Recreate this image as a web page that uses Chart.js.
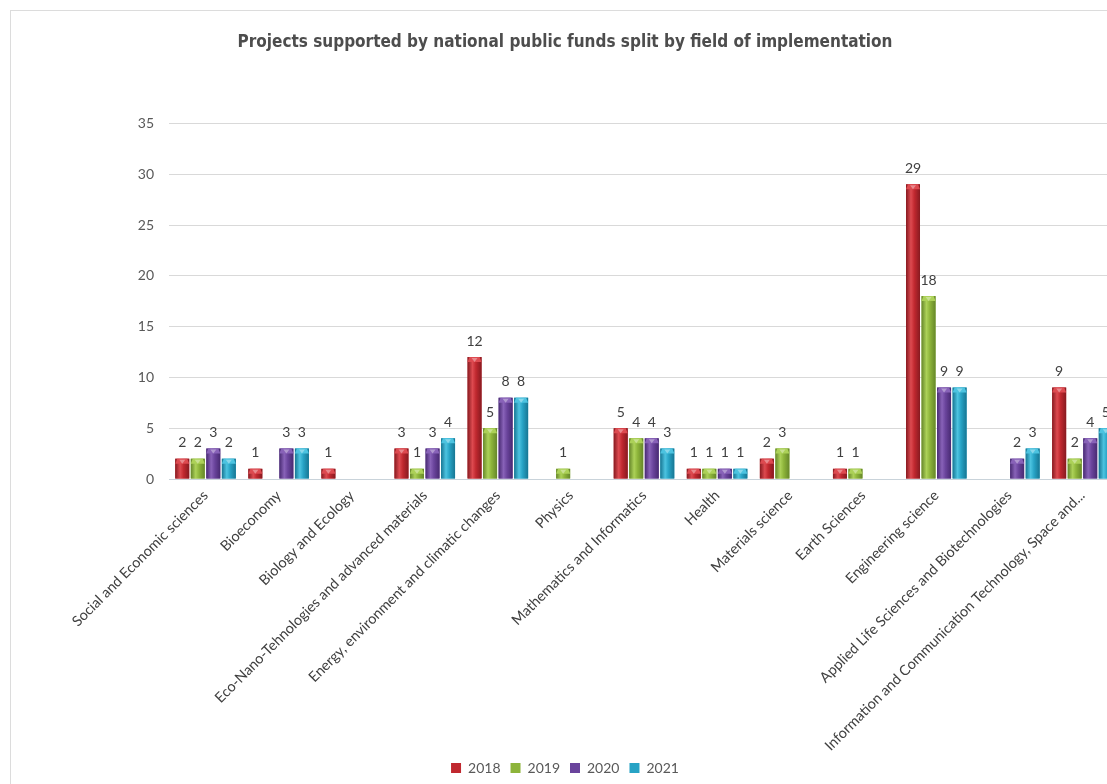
<!DOCTYPE html>
<html>
<head>
    <meta charset="UTF-8">
    <script src="https://cdn.jsdelivr.net/npm/chart.js"></script>
    <style>
        html, body { margin: 0; padding: 0; background: #fff; overflow: hidden; }
        #frame {
            position: absolute; left: 10px; top: 10px;
            width: 1120px; height: 790px;
            border-left: 1px solid #dcdcdc; border-top: 1px solid #dcdcdc;
        }
    </style>
</head>
<body>
<div id="frame">
    <canvas id="fieldsChart" width="1120" height="774"></canvas>
</div>

<script>
    const fields = [
        'Social and Economic sciences',
        'Bioeconomy',
        'Biology and Ecology',
        'Eco-Nano-Tehnologies and advanced materials',
        'Energy, environment and climatic changes',
        'Physics',
        'Mathematics and Informatics',
        'Health',
        'Materials science',
        'Earth Sciences',
        'Engineering science',
        'Applied Life Sciences and Biotechnologies',
        'Information and Communication Technology, Space and...'
    ];
    const projects2018 = [2, 1, 1, 3, 12, null, 5, 1, 2, 1, 29, null, 9];
    const projects2019 = [2, null, null, 1, 5, 1, 4, 1, 3, 1, 18, null, 2];
    const projects2020 = [3, 3, null, 3, 8, null, 4, 1, null, null, 9, 2, 4];
    const projects2021 = [2, 3, null, 4, 8, null, 3, 1, null, null, 9, 3, 5];
    const yearLabels = ['2018', '2019', '2020', '2021'];

    // base colour, dark edge, light centre
    const shades = [
        ['#c0282f', '#871a20', '#dd4a50'],
        ['#8db43a', '#66872a', '#acd158'],
        ['#6a449c', '#482a72', '#8862b8'],
        ['#27a3c5', '#177693', '#4cc3e0']
    ];

    const textFont = "Lato, 'Open Sans', sans-serif";

    // cylinder-like shading and a bevelled cap on top of every bar
    const barShading = {
        id: 'barShading',
        afterDatasetsDraw(chart) {
            const ctx = chart.ctx;
            chart.data.datasets.forEach((ds, i) => {
                const meta = chart.getDatasetMeta(i);
                const s = shades[i];
                meta.data.forEach((bar, j) => {
                    if (ds.data[j] === null) return;
                    const left = bar.x - bar.width / 2;
                    const right = bar.x + bar.width / 2;
                    const top = bar.y;
                    const h = bar.base - bar.y;
                    const g = ctx.createLinearGradient(left, 0, right, 0);
                    g.addColorStop(0, s[1]);
                    g.addColorStop(0.35, s[2]);
                    g.addColorStop(0.6, s[0]);
                    g.addColorStop(1, s[1]);
                    ctx.save();
                    ctx.fillStyle = g;
                    ctx.fillRect(left, top, bar.width, h);
                    // cap
                    const cap = Math.min(5, h);
                    ctx.fillStyle = s[2];
                    ctx.beginPath();
                    ctx.moveTo(left, top + cap);
                    ctx.lineTo(left + 2, top);
                    ctx.lineTo(right - 2, top);
                    ctx.lineTo(right, top + cap);
                    ctx.closePath();
                    ctx.fill();
                    ctx.fillStyle = 'rgba(255,255,255,0.35)';
                    ctx.beginPath();
                    ctx.moveTo(bar.x - 3, top + 1);
                    ctx.lineTo(bar.x + 3, top + 1);
                    ctx.lineTo(bar.x, top + cap);
                    ctx.closePath();
                    ctx.fill();
                    ctx.restore();
                });
            });
        }
    };

    // value written above each bar
    const valueLabels = {
        id: 'valueLabels',
        afterDatasetsDraw(chart) {
            const ctx = chart.ctx;
            ctx.save();
            ctx.font = '14px ' + textFont;
            ctx.fillStyle = '#404040';
            ctx.textAlign = 'center';
            ctx.textBaseline = 'bottom';
            chart.data.datasets.forEach((ds, i) => {
                chart.getDatasetMeta(i).data.forEach((bar, j) => {
                    const v = ds.data[j];
                    if (v === null) return;
                    ctx.fillText(String(v), bar.x, bar.y - 9);
                });
            });
            ctx.restore();
        }
    };

    const series = [projects2018, projects2019, projects2020, projects2021];

    new Chart(document.getElementById('fieldsChart'), {
        type: 'bar',
        data: {
            labels: fields,
            datasets: series.map((d, i) => ({
                label: yearLabels[i],
                data: d,
                backgroundColor: shades[i][0],
                categoryPercentage: 0.85,
                barPercentage: 0.9
            }))
        },
        options: {
            responsive: false,
            animation: false,
            layout: { padding: { left: 0, right: 12, top: 0, bottom: 0 } },
            plugins: {
                title: {
                    display: true,
                    text: 'Projects supported by national public funds split by field of implementation',
                    color: '#4d4d4d',
                    font: { family: "'DejaVu Sans Condensed', 'DejaVu Sans', sans-serif", size: 17, weight: 'bold' },
                    padding: { top: 21, bottom: 71 }
                },
                legend: {
                    position: 'bottom',
                    labels: {
                        boxWidth: 10,
                        boxHeight: 10,
                        padding: 10,
                        color: '#595959',
                        font: { family: textFont, size: 14 }
                    }
                },
                tooltip: { enabled: false }
            },
            scales: {
                x: {
                    grid: { display: false },
                    border: { color: '#c9d3da' },
                    ticks: {
                        color: '#404040',
                        font: { family: textFont, size: 14.4 },
                        padding: 0,
                        minRotation: 45,
                        maxRotation: 45,
                        autoSkip: false
                    },
                    afterFit(scale) { scale.height = 272; }
                },
                y: {
                    min: 0,
                    max: 35,
                    grid: { color: '#d9d9d9', drawTicks: false },
                    border: { display: false },
                    ticks: {
                        stepSize: 5,
                        padding: 15,
                        color: '#595959',
                        font: { family: textFont, size: 14 }
                    },
                    afterFit(scale) { scale.width = 158; }
                }
            }
        },
        plugins: [barShading, valueLabels]
    });
</script>
</body>
</html>
